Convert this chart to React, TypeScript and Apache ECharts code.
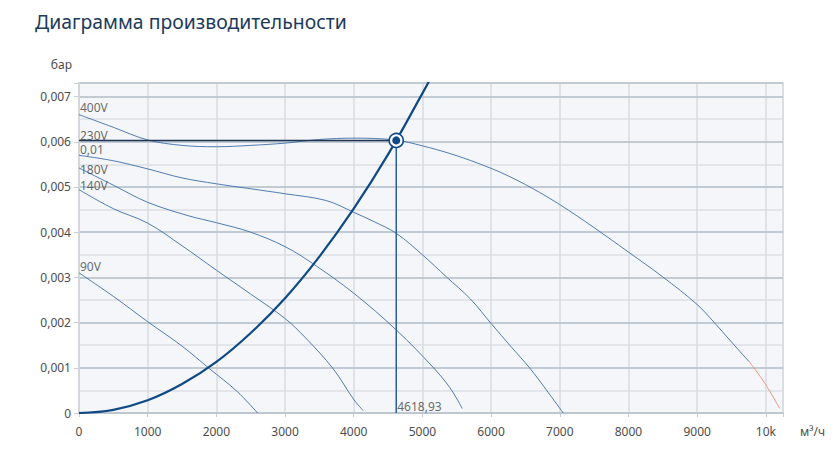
import { useEffect, useRef } from "react";
import * as echarts from "echarts";

// performance curves: [flow m³/h, pressure bar]
const CURVE_400V: [number, number][] = [
  [0, 0.0066], [500, 0.00632], [1000, 0.00604], [1500, 0.00592], [2000, 0.00589],
  [2500, 0.00592], [3000, 0.00597], [3500, 0.00605], [4000, 0.00608], [4600, 0.00604],
  [5000, 0.00591], [5400, 0.00574], [5800, 0.00553], [6200, 0.00528], [6600, 0.00497],
  [7000, 0.00461], [7500, 0.0041], [8000, 0.00356], [8500, 0.00301], [9000, 0.0024],
  [9250, 0.002], [9500, 0.00157], [9760, 0.00113],
];
const CURVE_400V_LIMIT: [number, number][] = [[9760, 0.00113], [9985, 0.00066], [10200, 0.0001]];
const CURVE_230V: [number, number][] = [
  [0, 0.0057], [500, 0.00558], [1000, 0.0054], [1500, 0.0052], [2000, 0.00507],
  [2500, 0.00496], [3000, 0.00485], [3600, 0.0047], [4000, 0.00444], [4300, 0.00423],
  [4624, 0.00397], [5000, 0.0035], [5350, 0.00301], [5700, 0.00252], [6000, 0.00198],
  [6300, 0.00145], [6565, 0.00099], [6800, 0.00052], [7050, 0],
];
const CURVE_180V: [number, number][] = [
  [0, 0.00542], [500, 0.00504], [1000, 0.00466], [1600, 0.00436], [2000, 0.00421],
  [2500, 0.004], [3000, 0.00368], [3400, 0.00331], [4000, 0.00265], [4624, 0.00183],
  [5150, 0.00102], [5400, 0.00056], [5580, 0.0001],
];
const CURVE_140V: [number, number][] = [
  [0, 0.00494], [500, 0.00452], [1000, 0.0042], [1500, 0.0037], [2000, 0.00316],
  [2500, 0.00263], [3000, 0.00209], [3300, 0.00166], [3700, 0.00098], [4000, 0.0003],
  [4140, 0.00005],
];
const CURVE_90V: [number, number][] = [
  [0, 0.0031], [500, 0.00258], [1000, 0.00202], [1500, 0.00148], [1900, 0.00098],
  [2300, 0.00048], [2600, 0],
];
const SYSTEM_CURVE: [number, number][] = [
  [0, 0], [500, 0.00007], [1000, 0.00028], [1500, 0.00064], [2000, 0.00113],
  [2500, 0.00177], [3000, 0.00254], [3500, 0.00346], [4000, 0.00452], [4500, 0.00572],
  [5000, 0.00707], [5100, 0.00735],
];

const CURVE_LABELS = ["400V", "230V", "0,01", "180V", "140V", "90V"];
const WORK_FLOW = 4618.93;
const WORK_PRESSURE = 0.00603;

const X_MAX = 10250;
const Y_MAX = 0.0073;

const FONT = "'Noto Sans', sans-serif";
const CURVE_COLOR = "#3d6ea9";

export default function App() {
  const containerRef = useRef<HTMLDivElement | null>(null);

  useEffect(() => {
    if (!containerRef.current) {
      return;
    }
    const chart = echarts.init(containerRef.current, null, { renderer: "svg" });

    const labelAnchors = [
      CURVE_400V[0], CURVE_230V[0], CURVE_230V[0], CURVE_180V[0], CURVE_140V[0], CURVE_90V[0],
    ];
    const labelShift = [-7, -20, -6, 2, -4, -6];

    const curveSeries = (data: [number, number][], color = CURVE_COLOR) => ({
      type: "line",
      data,
      smooth: 0.35,
      symbol: "none",
      silent: true,
      lineStyle: { color, width: 0.9 },
      z: 3,
    });

    const option: echarts.EChartsOption = {
      animation: false,
      title: {
        text: "Диаграмма производительности",
        left: 30,
        top: 7,
        textStyle: { fontFamily: FONT, fontSize: 19.4, fontWeight: 400, color: "#1d3a5b" },
      },
      grid: {
        left: 79,
        right: 52,
        top: 83,
        bottom: 39,
        show: true,
        backgroundColor: "#f4f6f9",
        borderColor: "#dde1e6",
        borderWidth: 2,
      },
      xAxis: {
        type: "value",
        min: 0,
        max: X_MAX,
        interval: 1000,
        name: "м³/ч",
        nameLocation: "end",
        nameGap: 17,
        nameTextStyle: {
          fontFamily: FONT, fontSize: 12, color: "#4d4d4d", verticalAlign: "top", padding: [12, 0, 0, 0],
        },
        axisLine: { show: true, lineStyle: { color: "#d3d7dc", width: 2 } },
        axisTick: { show: true, length: 4, lineStyle: { color: "#c8cdd3" } },
        axisLabel: {
          fontFamily: FONT,
          fontSize: 12,
          color: "#4d4d4d",
          margin: 12,
          formatter: (v: number) => (v === 10000 ? "10k" : v % 1000 === 0 ? String(v) : ""),
        },
        splitLine: { show: true, lineStyle: { color: "#d9dde2", width: 1.5 } },
      },
      yAxis: [
        {
          type: "value",
          min: 0,
          max: Y_MAX,
          interval: 0.001,
          position: "left",
          z: 1,
          name: "бар",
          nameLocation: "end",
          nameGap: 13,
          nameTextStyle: { fontFamily: FONT, fontSize: 12, color: "#4d4d4d", align: "right", padding: [0, 7, 0, 0] },
          axisLine: { show: true, lineStyle: { color: "#d3d7dc", width: 2 } },
          axisTick: { show: true, length: 5, lineStyle: { color: "#c8cdd3" } },
          axisLabel: {
            fontFamily: FONT,
            fontSize: 12,
            color: "#4d4d4d",
            margin: 8,
            formatter: (v: number) => {
              if (v === 0) return "0";
              const k = v * 1000;
              if (Math.abs(k - Math.round(k)) > 1e-6) return "";
              return v.toFixed(3).replace(".", ",");
            },
          },
          splitLine: { show: true, lineStyle: { color: "#b7c1cd", width: 1.5 } },
        },
        {
          type: "value",
          min: 0,
          max: Y_MAX,
          interval: 0.0005,
          position: "left",
          z: 0,
          axisLine: { show: false },
          axisTick: { show: false },
          axisLabel: { show: false },
          splitLine: { show: true, lineStyle: { color: "#dde1e6", width: 1.5 } },
        },
      ],
      series: [
        curveSeries(CURVE_90V),
        curveSeries(CURVE_140V),
        curveSeries(CURVE_180V),
        curveSeries(CURVE_230V),
        curveSeries(CURVE_400V),
        curveSeries(CURVE_400V_LIMIT, "#f08a7c"),
        {
          type: "line",
          data: [[0, WORK_PRESSURE], [WORK_FLOW, WORK_PRESSURE]],
          symbol: "none",
          silent: true,
          lineStyle: { color: "#1f3553", width: 1.5 },
          z: 4,
        },
        {
          type: "line",
          data: [[WORK_FLOW, WORK_PRESSURE], [WORK_FLOW, 0]],
          symbol: "none",
          silent: true,
          lineStyle: { color: "#2b5e9d", width: 1.5 },
          z: 4,
        },
        {
          type: "line",
          data: SYSTEM_CURVE,
          smooth: 0.4,
          symbol: "none",
          silent: true,
          lineStyle: { color: "#0f4a86", width: 2.2 },
          z: 5,
        },
        {
          type: "scatter",
          data: [[WORK_FLOW, WORK_PRESSURE]],
          symbolSize: 14,
          silent: true,
          itemStyle: { color: "#ffffff", borderColor: "#0f4a86", borderWidth: 1.6, opacity: 1 },
          z: 6,
        },
        {
          type: "scatter",
          data: [[WORK_FLOW, WORK_PRESSURE]],
          symbolSize: 8,
          silent: true,
          itemStyle: { color: "#0f4a86", opacity: 1 },
          z: 7,
        },
        {
          type: "scatter",
          data: [{
            value: [WORK_FLOW, 0],
            label: {
              show: true,
              position: "right",
              distance: 1,
              offset: [0, -7],
              formatter: WORK_FLOW.toFixed(2).replace(".", ","),
            },
          }],
          symbolSize: 0,
          silent: true,
          label: { fontFamily: FONT, fontSize: 12, color: "#444444" },
          z: 8,
        },
        {
          type: "scatter",
          data: CURVE_LABELS.map((text, i) => ({
            value: labelAnchors[i],
            label: {
              show: true,
              position: "right",
              distance: 1,
              offset: [0, labelShift[i]],
              formatter: text,
            },
          })),
          symbolSize: 0,
          silent: true,
          label: { fontFamily: FONT, fontSize: 12, color: "#444444" },
          z: 8,
        },
      ],
    };

    chart.setOption(option);
    return () => {
      chart.dispose();
    };
  }, []);

  return (
    <div
      ref={containerRef}
      style={{ position: "absolute", left: 0, top: 0, width: 835, height: 452, background: "#ffffff" }}
    />
  );
}
